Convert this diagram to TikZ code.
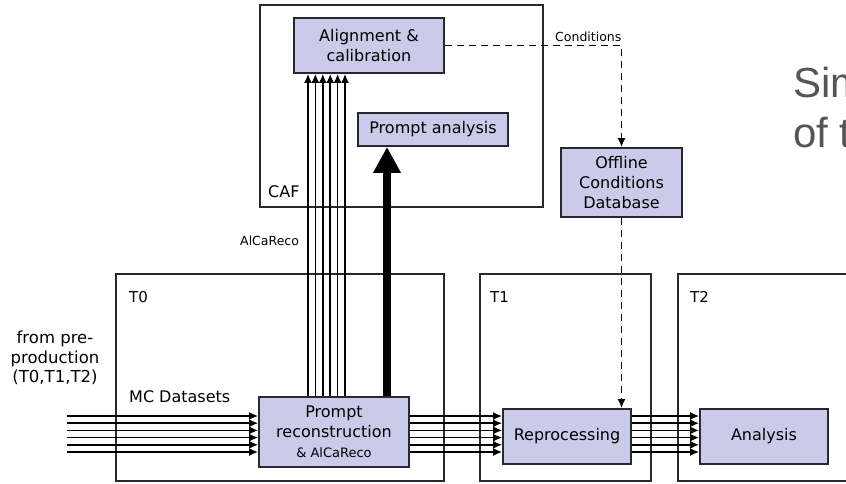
\documentclass[tikz,border=0pt]{standalone}
\usepackage{fontspec}
\setmainfont{DejaVu Sans}
\newfontfamily\slidefont{Liberation Sans}
\usetikzlibrary{arrows.meta}
\definecolor{boxfill}{RGB}{203,203,233}
\definecolor{boxline}{RGB}{40,40,50}
\definecolor{slidegray}{RGB}{85,85,85}
\begin{document}
\begin{tikzpicture}[x=1pt,y=-1pt,
  region/.style={draw=boxline, line width=1.6pt, inner sep=0pt},
  proc/.style={draw=boxline, fill=boxfill, line width=1.8pt, align=center,
    font=\fontsize{16}{20}\selectfont, inner sep=0pt},
  lbl/.style={inner sep=0pt, anchor=base west, font=\fontsize{15}{18}\selectfont},
  midlbl/.style={inner sep=0pt, anchor=base west, font=\fontsize{16}{19.5}\selectfont},
  smalllbl/.style={inner sep=0pt, anchor=base west, font=\fontsize{12.5}{14}\selectfont},
  flow/.style={line width=1.5pt, -{Latex[length=9pt,width=8pt]}},
  bigflow/.style={line width=8pt, -{Triangle[length=26pt,width=26pt]}},
  cond/.style={dash pattern=on 7pt off 5pt, line width=1.6pt, -{Latex[length=9pt,width=8pt]}},
  slide/.style={inner sep=0pt, anchor=base west, text=slidegray,
    font=\slidefont\fontsize{42}{50}\selectfont},
]
\clip (0,0) rectangle (846,483);
\fill[white] (0,0) rectangle (846,483);

% regions
\node[region, minimum width=283pt, minimum height=202pt] (caf) at (401.5,106) {};
\node[region, minimum width=328pt, minimum height=207pt] (t0) at (280,377.5) {};
\node[region, minimum width=171pt, minimum height=207pt] (t1) at (565.5,377.5) {};
\node[region, minimum width=182pt, minimum height=207pt] (t2) at (769,377.5) {};

% region labels
\node[lbl] (t0lbl) at (129,302) {T0};
\node[lbl] (t1lbl) at (490,302) {T1};
\node[lbl] (t2lbl) at (690,302) {T2};
\node[midlbl] (caflbl) at (268,197) {CAF};
\node[smalllbl] (alcalbl) at (240,245) {AlCaReco};
\node[midlbl] (mclbl) at (129,402) {MC Datasets};
\node[inner sep=0pt, align=center, font=\fontsize{16.5}{19.5}\selectfont] (fromlbl) at (55,358)
  {from pre-\\production\\(T0,T1,T2)};
\node[smalllbl] (condlbl) at (555,41) {Conditions};

% processing boxes
\node[proc, minimum width=150pt, minimum height=55pt] (align) at (369,45.5) {Alignment \&\\calibration};
\node[proc, minimum width=150pt, minimum height=33pt] (pa) at (433,129.5) {Prompt analysis};
\node[proc, minimum width=121pt, minimum height=69pt] (odb) at (621.5,182.5) {Offline\\Conditions\\Database};
\node[proc, minimum width=150pt, minimum height=70pt] (reco) at (334,432)
  {Prompt\\reconstruction\\{\fontsize{13}{15}\selectfont\& AlCaReco}};
\node[proc, minimum width=128pt, minimum height=55pt] (repro) at (567,436.5) {Reprocessing};
\node[proc, minimum width=128pt, minimum height=55pt] (ana) at (764,436.5) {Analysis};

% bundles of datasets
\foreach \y [count=\i] in {416,423.2,430.4,437.6,444.8,452} {
  \coordinate (src\i) at (67,\y);
  \draw[flow] (src\i) -- (reco.west |- src\i);
  \draw[flow] (reco.east |- src\i) -- (repro.west |- src\i);
  \draw[flow] (repro.east |- src\i) -- (ana.west |- src\i);
}
\foreach \x in {308,315.4,322.8,330.2,337.6,345} {
  \draw[flow] (reco.north -| \x,0) -- (align.south -| \x,0);
}
\draw[bigflow] (reco.north -| 387,0) -- (pa.south -| 387,0);

% conditions flow
\draw[cond] (align.east) -| (odb.north);
\draw[cond] (odb.south) -- (repro.north -| odb.south);

% slide title fragment
\node[slide] (sim) at (793,97) {Sim};
\node[slide] (oft) at (793,147) {of t};
\end{tikzpicture}
\end{document}
